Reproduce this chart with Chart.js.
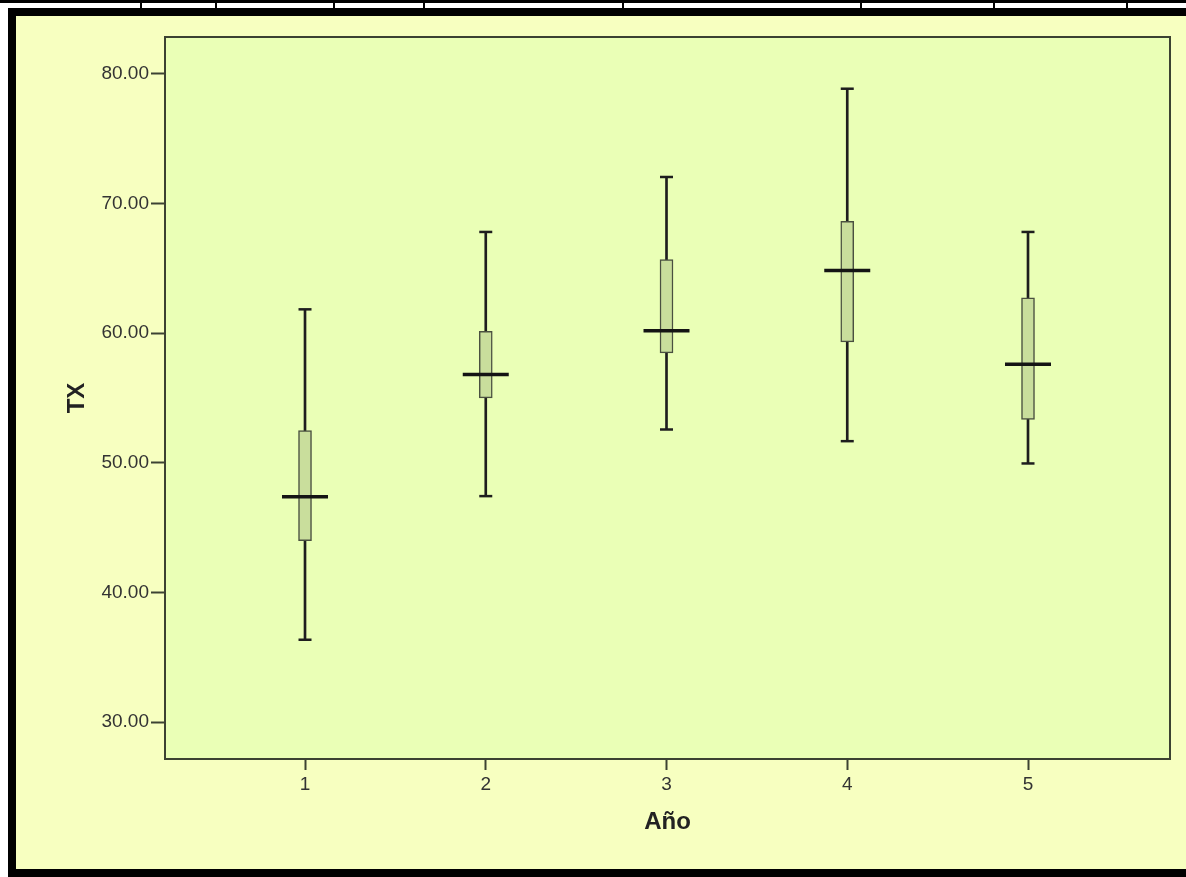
<!DOCTYPE html>
<html>
<head>
<meta charset="utf-8">
<script src="https://cdn.jsdelivr.net/npm/chart.js@4.4.1/dist/chart.umd.min.js"></script>
<style>
    body { margin: 0; background: #fff; width: 1186px; height: 877px; overflow: hidden; position: relative; }
    .linea { position: absolute; background: #000; }
    #marco { position: absolute; left: 8px; top: 8px; width: 1178px; height: 869px; box-sizing: border-box;
             border: 8px solid #000; border-right: none; background: #F7FFC0; }
    #graficoCaja { position: absolute; left: 0; top: 0; }
</style>
</head>
<body>
<div class="linea" style="left:0;top:0;width:1186px;height:3px"></div>
<div id="divisiones"></div>
<div id="marco"></div>
<canvas id="graficoCaja" width="1186" height="877"></canvas>
<script>
// datos
const anios = [1, 2, 3, 4, 5];
const bigoteInf = [36.35, 47.43, 52.57, 51.67, 49.95];
const cuartil1 = [43.99, 55.01, 58.48, 59.33, 53.34];
const mediana = [47.38, 56.81, 60.18, 64.83, 57.60];
const cuartil3 = [52.48, 60.15, 65.68, 68.63, 62.72];
const bigoteSup = [61.84, 67.81, 72.05, 78.86, 67.81];
const ticksY = [30, 40, 50, 60, 70, 80];

// lineas de la tabla de arriba
const cortes = [140, 215, 333, 423, 622, 860, 993, 1126];
cortes.forEach(x => {
    const d = document.createElement('div');
    d.className = 'linea';
    d.style.cssText = 'left:' + x + 'px;top:0;width:2px;height:8px';
    document.getElementById('divisiones').appendChild(d);
});

const colorLinea = '#1e1e1e';
const colorEje = '#3c4232';

// fondo y marco del area del grafico
const fondoArea = {
    id: 'fondoArea',
    beforeDatasetsDraw(chart) {
        const {ctx, chartArea: a} = chart;
        ctx.save();
        ctx.fillStyle = '#EAFFB6';
        ctx.fillRect(a.left, a.top, a.right - a.left, a.bottom - a.top);
        ctx.restore();
    },
    afterDatasetsDraw(chart) {
        const {ctx, chartArea: a} = chart;
        ctx.save();
        ctx.strokeStyle = colorEje;
        ctx.lineWidth = 2;
        ctx.strokeRect(a.left, a.top, a.right - a.left, a.bottom - a.top);
        ctx.restore();
    }
};

const ctxCaja = document.getElementById('graficoCaja');

let cajaChart = new Chart(ctxCaja, {
    type: 'bar',
    data: {
        datasets: [
            {
                label: 'bigotes',
                data: anios.map((a, i) => ({x: a, y: [bigoteInf[i], bigoteSup[i]]})),
                backgroundColor: colorLinea,
                barThickness: 2,
                grouped: false,
                order: 4
            },
            {
                label: 'cajas',
                data: anios.map((a, i) => ({x: a, y: [cuartil1[i], cuartil3[i]]})),
                backgroundColor: '#C9DE9C',
                borderColor: '#4a5040',
                borderWidth: 1.5,
                borderSkipped: false,
                barThickness: 13,
                grouped: false,
                order: 3
            },
            {
                type: 'scatter',
                label: 'extremos',
                data: anios.map((a, i) => ({x: a, y: bigoteInf[i]}))
                    .concat(anios.map((a, i) => ({x: a, y: bigoteSup[i]}))),
                pointStyle: 'line',
                radius: 6.5,
                borderWidth: 2.5,
                borderColor: colorLinea,
                order: 2
            },
            {
                type: 'scatter',
                label: 'mediana',
                data: anios.map((a, i) => ({x: a, y: mediana[i]})),
                pointStyle: 'line',
                radius: 23,
                borderWidth: 3.5,
                borderColor: '#141414',
                order: 1
            }
        ]
    },
    options: {
        responsive: false,
        animation: false,
        layout: { autoPadding: false, padding: { top: 37, right: 16, left: 0, bottom: 0 } },
        plugins: { legend: { display: false }, tooltip: { enabled: false } },
        scales: {
            x: {
                type: 'linear',
                min: 0.2254,
                max: 5.7856,
                offset: false,
                afterFit: s => { s.height = 118; s.paddingRight = 0; s.paddingLeft = 0; },
                afterBuildTicks: s => { s.ticks = anios.map(v => ({value: v})); },
                grid: { offset: false, drawOnChartArea: false, tickLength: 11, tickColor: colorEje, tickWidth: 2 },
                border: { display: false },
                ticks: {
                    padding: 3,
                    color: '#333',
                    font: { family: 'Liberation Sans, Arial, sans-serif', size: 19 },
                    callback: v => String(v)
                },
                title: {
                    display: true,
                    text: 'Año',
                    color: '#222',
                    padding: { top: 0, bottom: 43 },
                    font: { family: 'Liberation Sans, Arial, sans-serif', size: 24, weight: 'bold', lineHeight: 1 }
                }
            },
            y: {
                min: 27.15,
                max: 82.85,
                afterFit: s => { s.width = 165; },
                afterBuildTicks: s => { s.ticks = ticksY.map(v => ({value: v})); },
                grid: { drawOnChartArea: false, tickLength: 14, tickColor: colorEje, tickWidth: 2 },
                border: { display: false },
                ticks: {
                    padding: 2,
                    color: '#333',
                    font: { family: 'Liberation Sans, Arial, sans-serif', size: 19 },
                    callback: v => v.toFixed(2)
                },
                title: {
                    display: true,
                    text: 'TX',
                    color: '#222',
                    padding: { top: 65, bottom: 0 },
                    font: { family: 'Liberation Sans, Arial, sans-serif', size: 24, weight: 'bold', lineHeight: 1 }
                }
            }
        }
    },
    plugins: [fondoArea]
});
</script>
</body>
</html>
